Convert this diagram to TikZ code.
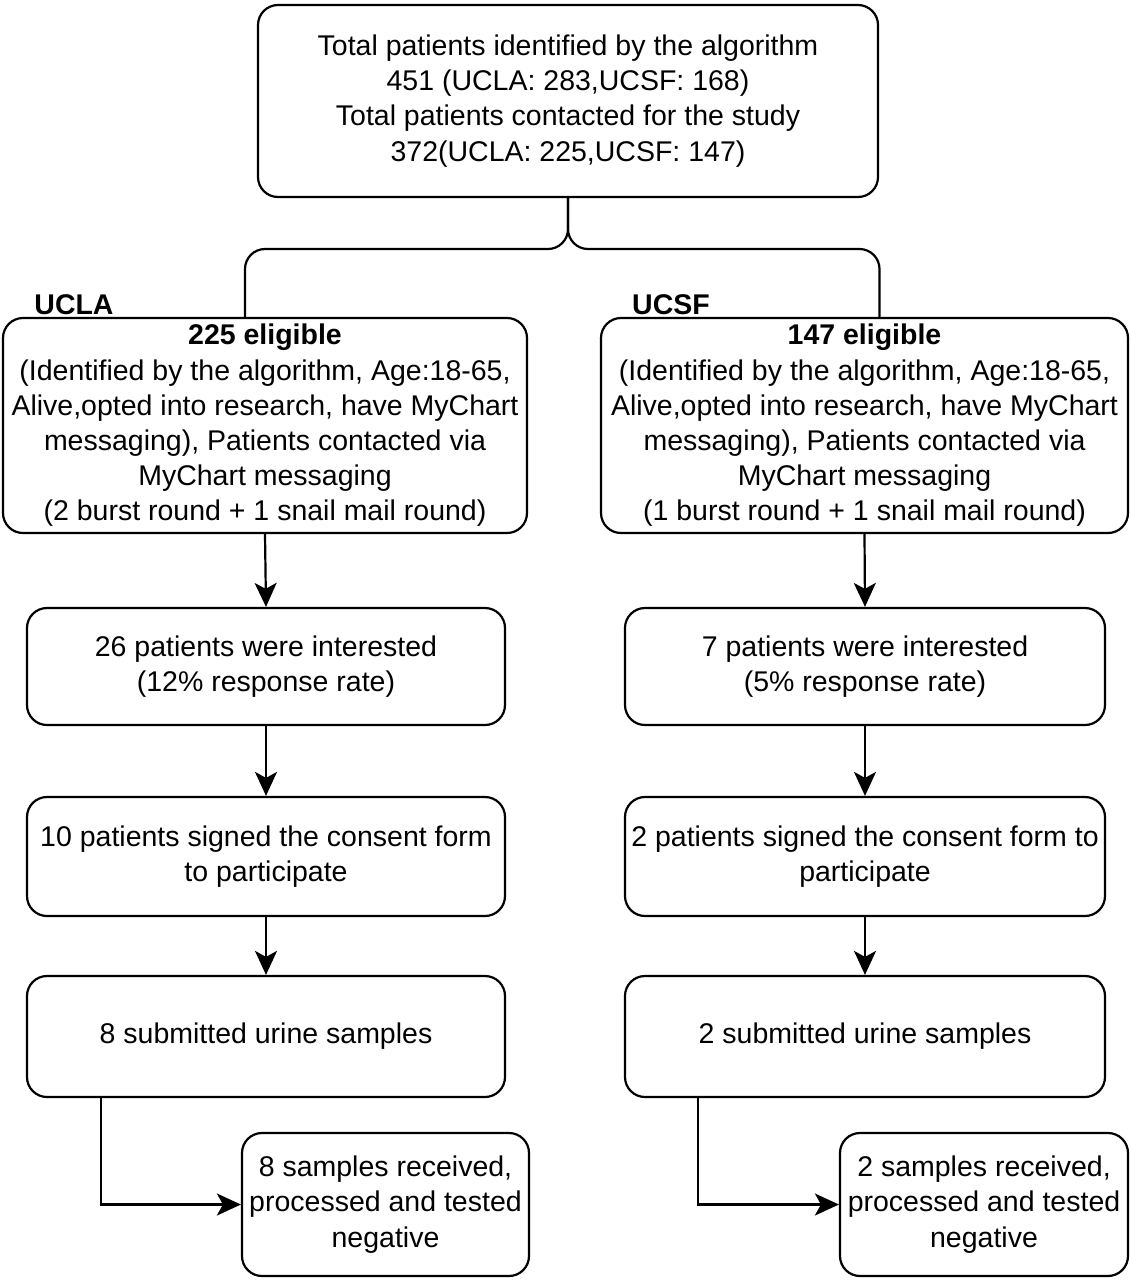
\documentclass[tikz,border=0pt]{standalone}
\usepackage{fontspec}
\setmainfont{Liberation Sans}
\usetikzlibrary{arrows.meta}
\begin{document}
\begin{tikzpicture}[x=1pt,y=1pt,
  box/.style={draw, line width=2.2pt, rounded corners=20pt, align=center, inner sep=0pt,
    font=\fontsize{28.5}{35.2}\selectfont},
  lbl/.style={font=\fontsize{28.5}{30}\selectfont\bfseries, inner sep=0pt},
  arr/.style={line width=2.2pt, -{Stealth[length=24pt,width=22pt,inset=6pt]}},
  conn/.style={line width=2.2pt, rounded corners=20pt}]
\useasboundingbox (0,0) rectangle (1132,-1280);

\node[box, minimum width=620pt, minimum height=192pt] (top) at (568,-101)
 {Total patients identified by the algorithm\\451 (UCLA: 283,UCSF: 168)\\Total patients contacted for the study\\372(UCLA: 225,UCSF: 147)};

\node[lbl] (lbla) at (74,-305) {UCLA};
\node[lbl] (lbsf) at (671,-305) {UCSF};

\node[box, minimum width=524pt, minimum height=215pt] (la1) at (265,-425.5)
 {\textbf{225 eligible}\\(Identified by the algorithm, Age:18-65,\\Alive,opted into research, have MyChart\\messaging), Patients contacted via\\MyChart messaging\\(2 burst round + 1 snail mail round)};
\node[box, minimum width=527pt, minimum height=215pt] (sf1) at (864.5,-425.5)
 {\textbf{147 eligible}\\(Identified by the algorithm, Age:18-65,\\Alive,opted into research, have MyChart\\messaging), Patients contacted via\\MyChart messaging\\(1 burst round + 1 snail mail round)};

\node[box, minimum width=478pt, minimum height=117pt] (la2) at (266,-666.5)
 {26 patients were interested\\(12\% response rate)};
\node[box, minimum width=480pt, minimum height=117pt] (sf2) at (865,-666.5)
 {7 patients were interested\\(5\% response rate)};

\node[box, minimum width=478pt, minimum height=119pt] (la3) at (266,-856.5)
 {10 patients signed the consent form\\to participate};
\node[box, minimum width=480pt, minimum height=119pt] (sf3) at (865,-856.5)
 {2 patients signed the consent form to\\participate};

\node[box, minimum width=478pt, minimum height=121pt] (la4) at (266,-1036.5)
 {8 submitted urine samples};
\node[box, minimum width=480pt, minimum height=121pt] (sf4) at (865,-1036.5)
 {2 submitted urine samples};

\node[box, minimum width=287pt, minimum height=143pt] (la5) at (385.5,-1204.5)
 {8 samples received,\\processed and tested\\negative};
\node[box, minimum width=288pt, minimum height=143pt] (sf5) at (984,-1204.5)
 {2 samples received,\\processed and tested\\negative};

% brace connector
\draw[conn] (top.south) |- ([xshift=-20pt]la1.north |- 0,-249) -- ([xshift=-20pt]la1.north);
\draw[conn] (top.south) |- ([xshift=15pt]sf1.north |- 0,-249) -- ([xshift=15pt]sf1.north);

\draw[arr] (la1.south) -- (la2.north);
\draw[arr] (la2.south) -- (la3.north);
\draw[arr] (la3.south) -- (la4.north);
\draw[arr] (sf1.south) -- (sf2.north);
\draw[arr] (sf2.south) -- (sf3.north);
\draw[arr] (sf3.south) -- (sf4.north);

\draw[arr] ([xshift=-165pt]la4.south) |- (la5.west);
\draw[arr] ([xshift=-167pt]sf4.south) |- (sf5.west);
\end{tikzpicture}
\end{document}
